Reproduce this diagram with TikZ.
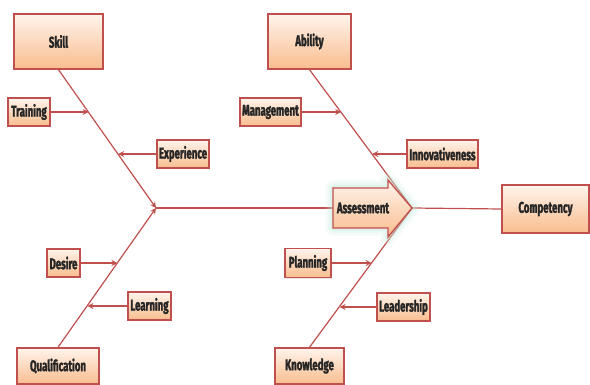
\documentclass[tikz,border=0pt]{standalone}
\usepackage{fontspec}
\newfontfamily\lblfont{Fira Sans}[FakeStretch=0.62,BoldFeatures={FakeBold=1.8}]
\usetikzlibrary{shadows,arrows.meta,calc}
\definecolor{edge}{HTML}{C0504D}
\definecolor{peachtop}{HTML}{FFF4EC}
\definecolor{peachbot}{HTML}{F9BD8E}
\definecolor{txt}{HTML}{262626}
\definecolor{glow}{HTML}{BFE8D8}
\begin{document}
\begin{tikzpicture}[x=1pt,y=-1pt,
  lbl/.style={text=txt, font=\lblfont\bfseries\fontsize{15.5}{17}\selectfont},
  box/.style={lbl, draw=edge, line width=1.4pt, top color=peachtop, bottom color=peachbot,
    inner sep=0pt, drop shadow={shadow xshift=1pt,shadow yshift=-1.5pt,opacity=0.2}},
  conn/.style={draw=edge, line width=1.2pt},
  arr/.style={conn, -{Stealth[length=6pt,width=6pt]}}]
\useasboundingbox (0,0) rectangle (590,385);
\fill[white] (0,0) rectangle (590,385);

% junctions
\coordinate (J) at (156,208);
\coordinate (AssessTip) at (412,208);
\coordinate (AssessTail) at (333,208);

% boxes
\node[box, minimum width=89pt, minimum height=55pt] (Skill) at (58.5,41.5) {Skill};
\node[box, minimum width=83pt, minimum height=55pt] (Ability) at (309.5,41.5) {Ability};
\node[box, minimum width=42pt, minimum height=28pt] (Training) at (29,112) {Training};
\node[box, minimum width=52pt, minimum height=28pt] (Experience) at (183,154) {Experience};
\node[box, minimum width=61pt, minimum height=28pt] (Management) at (270.5,112) {Management};
\node[box, minimum width=71pt, minimum height=28pt] (Innovativeness) at (442.5,154) {Innovativeness};
\node[box, minimum width=33pt, minimum height=28pt] (Desire) at (63.5,263) {Desire};
\node[box, minimum width=43pt, minimum height=28pt] (Learning) at (149.5,306) {Learning};
\node[box, minimum width=46pt, minimum height=29pt] (Planning) at (308,263) {Planning};
\node[box, minimum width=53pt, minimum height=28pt] (Leadership) at (403.5,307) {Leadership};
\node[box, minimum width=82pt, minimum height=36pt] (Qualification) at (58,366) {Qualification};
\node[box, minimum width=69pt, minimum height=36pt] (Knowledge) at (309.5,366) {Knowledge};
\node[box, minimum width=87pt, minimum height=48pt] (Competency) at (545.5,209) {Competency};

% bone tips
\coordinate (tTraining) at ($(Skill.south)!0.309!(J)$);
\coordinate (tExperience) at ($(Skill.south)!0.612!(J)$);
\coordinate (tDesire) at ($(Qualification.north)!0.607!(J)$);
\coordinate (tLearning) at ($(Qualification.north)!0.300!(J)$);
\coordinate (tManagement) at ($(Ability.south)!0.309!(AssessTip)$);
\coordinate (tInnov) at ($(Ability.south)!0.612!(AssessTip)$);
\coordinate (tPlanning) at ($(Knowledge.north)!0.607!(AssessTip)$);
\coordinate (tLeadership) at ($(Knowledge.north)!0.293!(AssessTip)$);

% main bones
\draw[arr] (Skill.south) -- (J);
\draw[arr] (Qualification.north) -- (J);
\draw[conn] (Ability.south) -- (AssessTip);
\draw[conn] (Knowledge.north) -- (AssessTip);
\draw[conn] (J) -- (AssessTail);
\draw[conn] (AssessTip) -- (Competency.west);

% sub bones
\draw[arr] (Training.east) -- (Training.east -| tTraining);
\draw[arr] (Experience.west) -- (Experience.west -| tExperience);
\draw[arr] (Desire.east) -- (Desire.east -| tDesire);
\draw[arr] (Learning.west) -- (Learning.west -| tLearning);
\draw[arr] (Management.east) -- (Management.east -| tManagement);
\draw[arr] (Innovativeness.west) -- (Innovativeness.west -| tInnov);
\draw[arr] (Planning.east) -- (Planning.east -| tPlanning);
\draw[arr] (Leadership.west) -- (Leadership.west -| tLeadership);

% assessment arrow
\def\assesspath{(333,188) -- (388,188) -- (388,180) -- (412,208) -- (388,237) -- (388,228) -- (333,228) -- cycle}
\foreach \w/\o in {16/0.12,11/0.18,6/0.25}{
  \draw[glow, line width=\w pt, line join=round, opacity=\o] \assesspath;
}
\path[draw=edge, line width=1.4pt, line join=miter, top color=peachtop, bottom color=peachbot] \assesspath;
\node[lbl] (Assess) at (363,208) {Assessment};
\end{tikzpicture}
\end{document}
